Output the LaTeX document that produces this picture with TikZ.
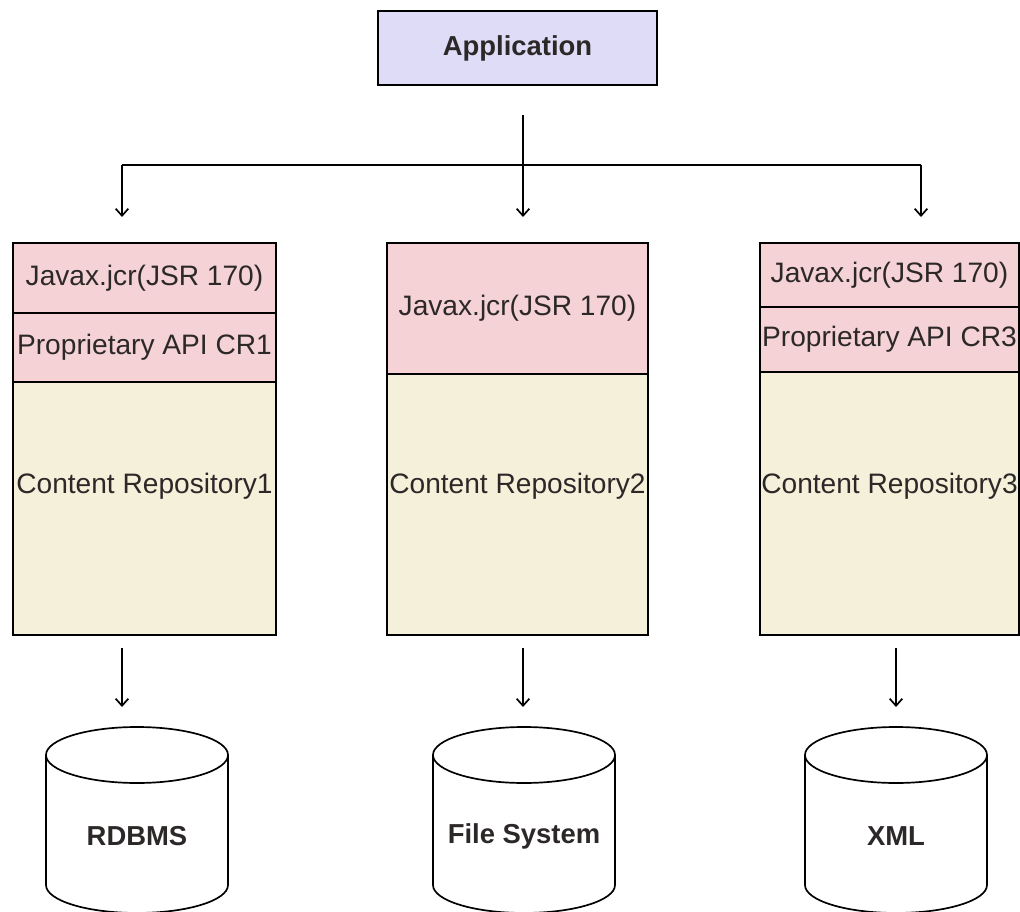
\documentclass[tikz,border=0pt]{standalone}
\usepackage{fontspec}
\setmainfont{Liberation Sans}
\usetikzlibrary{arrows.meta}

\definecolor{appfill}{RGB}{222,220,246}
\definecolor{apifill}{RGB}{244,210,214}
\definecolor{repofill}{RGB}{245,240,218}
\definecolor{txt}{RGB}{45,40,40}

\tikzset{
	layer/.style={draw=black, line width=1.2pt, outer sep=0pt, inner sep=0pt, text=txt, font=\fontsize{20}{23}\selectfont},
	apibox/.style={layer, fill=apifill},
	repobox/.style={layer, fill=repofill},
	flow/.style={line width=1.2pt, -{Straight Barb[length=5pt,width=9pt,line width=1.2pt]}},
	dbtext/.style={font=\fontsize{19.5}{22}\selectfont\bfseries, text=txt}
}

\begin{document}
\begin{tikzpicture}[x=0.025cm, y=-0.025cm]
		%%%%% START %%%%%
		\useasboundingbox (0, 0) rectangle (1020, 912);
		
		\node[layer, fill=appfill, minimum width=6.975cm, minimum height=1.85cm, font=\fontsize{19.5}{22}\selectfont\bfseries] (app) at (517.5, 48) {Application};
		
		% first column
		\node[apibox, minimum width=6.575cm, minimum height=1.75cm] (jcr1) at (144.5, 278) {Javax.jcr(JSR 170)};
		\node[apibox, minimum width=6.575cm, minimum height=1.725cm] (api1) at (144.5, 347.5) {Proprietary API CR1};
		\node[repobox, minimum width=6.575cm, minimum height=6.325cm] (cr1) at (144.5, 508.5) {};
		\node[text=txt, font=\fontsize{20}{23}\selectfont, inner sep=0pt] (cr1label) at (144.5, 486) {Content Repository1};
		
		% second column
		\node[apibox, minimum width=6.525cm, minimum height=3.275cm] (jcr2) at (517.5, 308.5) {Javax.jcr(JSR 170)};
		\node[repobox, minimum width=6.525cm, minimum height=6.525cm] (cr2) at (517.5, 504.5) {};
		\node[text=txt, font=\fontsize{20}{23}\selectfont, inner sep=0pt] (cr2label) at (517.5, 486) {Content Repository2};
		
		% third column
		\node[apibox, minimum width=6.475cm, minimum height=1.6cm] (jcr3) at (889.5, 275) {Javax.jcr(JSR 170)};
		\node[apibox, minimum width=6.475cm, minimum height=1.625cm] (api3) at (889.5, 339.5) {Proprietary API CR3};
		\node[repobox, minimum width=6.475cm, minimum height=6.575cm] (cr3) at (889.5, 503.5) {};
		\node[text=txt, font=\fontsize{20}{23}\selectfont, inner sep=0pt] (cr3label) at (889.5, 486) {Content Repository3};
		
		% fan out from the application
		\coordinate (split) at (523, 115);
		\coordinate (hubL) at (122, 165);
		\coordinate (hubR) at (921, 165);
		\coordinate (in1) at (122, 217);
		\coordinate (in2) at (523, 217);
		\coordinate (in3) at (921, 217);
		\draw[flow] (split) -- (in2);
		\draw[line width=1.2pt] (hubL) -- (hubR);
		\draw[flow] (hubL) -- (in1);
		\draw[flow] (hubR) -- (in3);
		
		% stores
		\foreach \cx/\nm/\lbl/\ax in {137/db1/RDBMS/122, 524/db2/File System/523, 896/db3/XML/896} {
			\draw[line width=1.2pt, fill=white] (\cx-91, 755) -- (\cx-91, 885) arc[start angle=180, end angle=0, x radius=91, y radius=28] -- (\cx+91, 755);
			\draw[line width=1.2pt, fill=white] (\cx, 755) ellipse [x radius=91, y radius=28];
			\node[dbtext] (\nm) at (\cx, 836) {\lbl};
			\coordinate (\nm out) at (\ax, 648);
			\coordinate (\nm in) at (\ax, 707);
			\draw[flow] (\nm out) -- (\nm in);
		}
		%%%%% END %%%%%
	\end{tikzpicture}
\end{document}
